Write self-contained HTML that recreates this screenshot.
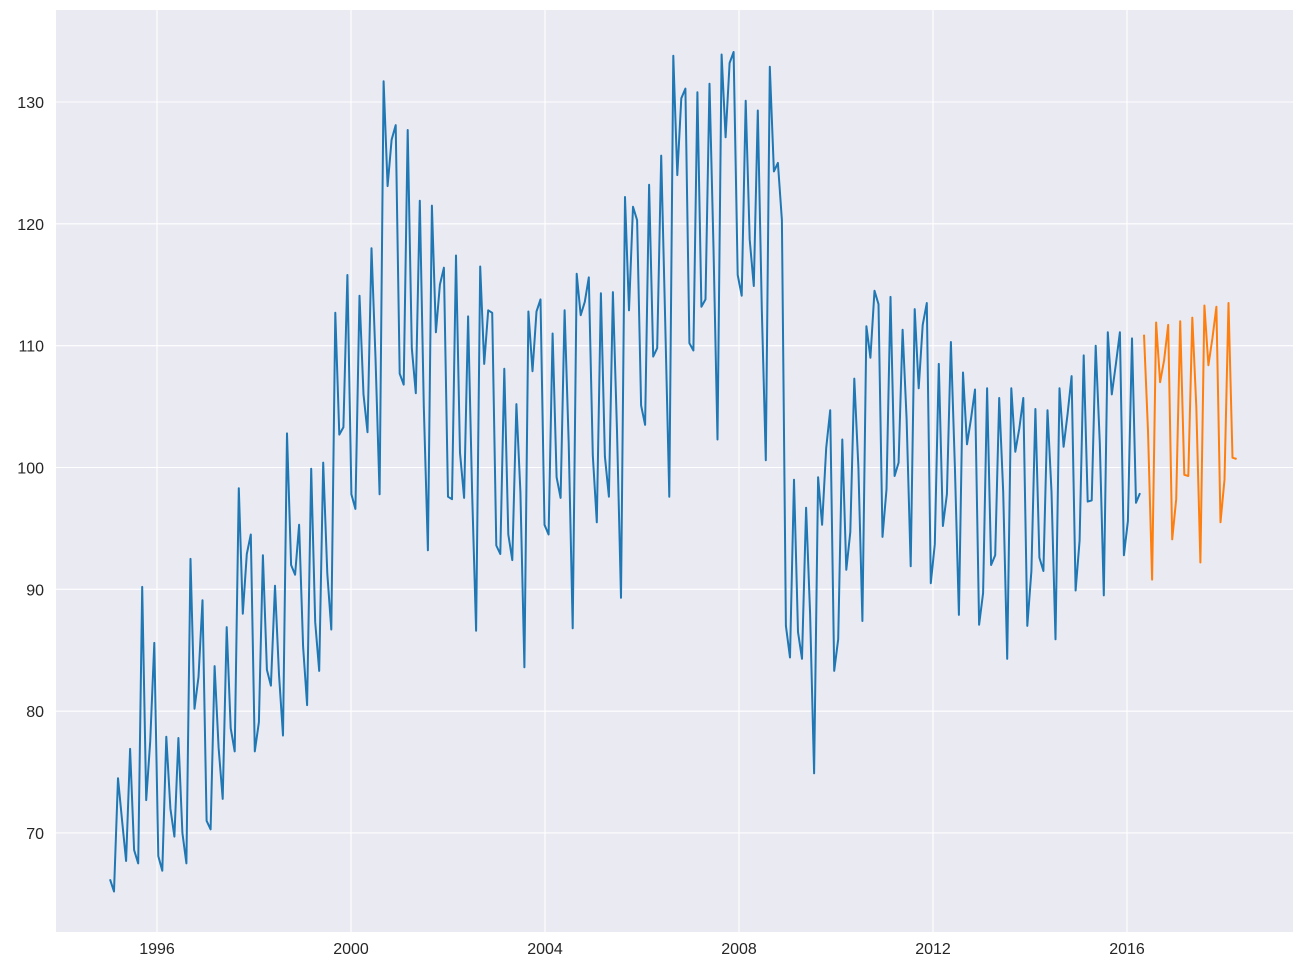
<!DOCTYPE html>
<html><head><meta charset="utf-8"><style>
html,body{margin:0;padding:0;background:#fff;}
svg{display:block;font-family:"Liberation Sans","DejaVu Sans",sans-serif;}
</style></head><body>
<svg id="s" width="1303" height="971" xmlns="http://www.w3.org/2000/svg">
<rect x="56" y="10" width="1237" height="922" fill="#eaeaf2"/>
<g id="grid" stroke="#fff" stroke-width="1.1"></g>
<g id="lbl" font-size="16" fill="#262626"></g>
<polyline id="b" fill="none" stroke="#1f77b4" stroke-width="2" stroke-linejoin="round"/>
<polyline id="o" fill="none" stroke="#ff7f0e" stroke-width="2" stroke-linejoin="round"/>
</svg>
<script>
var NS="http://www.w3.org/2000/svg";
function X(t){return 157+(t-1996)*48.5;}
function Y(v){return 102+(130-v)*12.183;}
var g=document.getElementById('grid'),l=document.getElementById('lbl');
function el(p,tag,a,txt){var e=document.createElementNS(NS,tag);for(var k in a)e.setAttribute(k,a[k]);if(txt)e.textContent=txt;p.appendChild(e);}
for(var v=70;v<=130;v+=10){var y=Y(v);el(g,'line',{x1:56,x2:1293,y1:y,y2:y});el(l,'text',{x:44,y:y+6,'text-anchor':'end'},String(v));}
for(var yr=1996;yr<=2016;yr+=4){var x=X(yr);el(g,'line',{x1:x,x2:x,y1:10,y2:932});el(l,'text',{x:x,y:954,'text-anchor':'middle'},String(yr));}
var b=[66.2,65.2,74.5,71,67.7,76.9,68.6,67.5,90.2,72.7,77.5,85.6,
68.1,66.9,77.9,72,69.7,77.8,70,67.5,92.5,80.2,82.8,89.1,
71,70.3,83.7,77,72.8,86.9,78.6,76.7,98.3,88,92.9,94.5,
76.7,79.1,92.8,83.4,82.1,90.3,83,78,102.8,92,91.2,95.3,
85.3,80.5,99.9,87.3,83.3,100.4,91.3,86.7,112.7,102.7,103.3,115.8,
97.8,96.6,114.1,106,102.9,118,109,97.8,131.7,123.1,126.9,128.1,
107.7,106.8,127.7,109.8,106.1,121.9,105,93.2,121.5,111.1,115,116.4,
97.6,97.4,117.4,101.2,97.5,112.4,98,86.6,116.5,108.5,112.9,112.7,
93.6,92.9,108.1,94.5,92.4,105.2,98,83.6,112.8,107.9,112.8,113.8,
95.3,94.5,111,99.2,97.5,112.9,102,86.8,115.9,112.5,113.6,115.6,
101,95.5,114.3,100.9,97.6,114.4,103,89.3,122.2,112.9,121.4,120.3,
105.1,103.5,123.2,109.1,109.8,125.6,112,97.6,133.8,124,130.3,131.1,
110.2,109.6,130.8,113.2,113.8,131.5,118,102.3,133.9,127.1,133.2,134.1,
115.8,114.1,130.1,118.7,114.9,129.3,113,100.6,132.9,124.3,125,120.3,
87,84.4,99,86.5,84.3,96.7,88,74.9,99.2,95.3,101.6,104.7,
83.3,85.9,102.3,91.6,94.7,107.3,100,87.4,111.6,109,114.5,113.4,
94.3,98.2,114,99.3,100.4,111.3,104,91.9,113,106.5,111.7,113.5,
90.5,93.7,108.5,95.2,97.8,110.3,100,87.9,107.8,101.9,104,106.4,
87.1,89.7,106.5,92,92.8,105.7,98,84.3,106.5,101.3,103.2,105.7,
87,91.5,104.8,92.6,91.5,104.7,98,85.9,106.5,101.7,104.4,107.5,
89.9,94,109.2,97.2,97.3,110,102,89.5,111.1,106,108.5,111.1,
92.8,95.6,110.6,97.1,97.9];
var o=[110.9,103,90.8,111.9,107,108.8,111.7,94.1,97.4,112,99.4,99.3,112.3,105,92.2,113.3,108.4,110.6,113.2,95.5,99,113.5,100.8,100.7];
var step=1030/256;
function pts(arr,start){return arr.map(function(v,i){return (110+(start+i)*step).toFixed(1)+','+Y(v).toFixed(1);}).join(' ');}
document.getElementById('b').setAttribute('points',pts(b,0));
document.getElementById('o').setAttribute('points',pts(o,b.length));
</script>
</body></html>
